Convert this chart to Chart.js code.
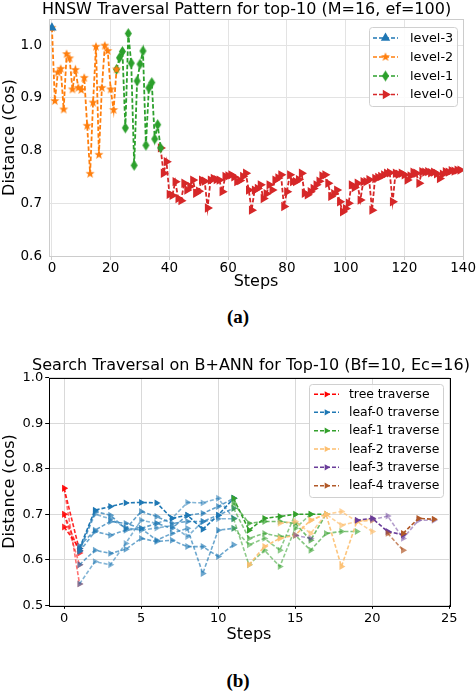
<!DOCTYPE html>
<html>
<head>
<meta charset="utf-8">
<script src="https://cdn.jsdelivr.net/npm/chart.js@4.4.0/dist/chart.umd.min.js"></script>
<style>
  body { margin: 0; background: #fff; width: 476px; height: 694px; position: relative; overflow: hidden; }
  canvas { position: absolute; left: 0; }
  #topChart { top: 0; }
  #botChart { top: 340px; }
  .cap { position: absolute; left: 0; width: 476px; text-align: center; font: bold 19px "Liberation Serif", serif; color: #000; }
</style>
</head>
<body>
<canvas id="topChart" width="476" height="300"></canvas>
<div class="cap" style="top:306px">(a)</div>
<canvas id="botChart" width="476" height="310"></canvas>
<div class="cap" style="top:670px">(b)</div>
<script>
/* ---- (a) HNSW traversal data ---- */
var topXTicks = [0, 20, 40, 60, 80, 100, 120, 140];
var topYTicks = [0.6, 0.7, 0.8, 0.9, 1.0];
var level3Start = 0;
var level3Dist = [1.033];
var level2Start = 0;
var level2Dist = [1.033, 0.894, 0.948, 0.955, 0.878, 0.983, 0.975, 0.916, 0.953, 0.919, 0.915, 0.938,
  0.847, 0.756, 0.891, 0.997, 0.792, 0.919, 0.999, 0.989, 0.916, 0.877, 0.954];
var level1Start = 22;
var level1Dist = [0.954, 0.976, 0.988, 0.843, 1.022, 0.966, 0.772, 0.932, 0.964, 0.989, 0.810, 0.919,
  0.929, 0.822, 0.849, 0.805];
var level0Start = 37;
var level0Dist = [
  0.805, 0.757, 0.779, 0.717, 0.715, 0.741, 0.709, 0.705, 0.738, 0.725,
  0.732, 0.744, 0.719, 0.723, 0.744, 0.742, 0.691, 0.744, 0.747, 0.745,
  0.744, 0.722, 0.751, 0.752, 0.754, 0.750, 0.741, 0.743, 0.751, 0.757,
  0.725, 0.687, 0.725, 0.728, 0.735, 0.709, 0.718, 0.735, 0.725, 0.744,
  0.748, 0.754, 0.694, 0.722, 0.754, 0.741, 0.741, 0.745, 0.757, 0.719,
  0.716, 0.722, 0.728, 0.735, 0.742, 0.752, 0.754, 0.738, 0.713, 0.718,
  0.725, 0.703, 0.684, 0.690, 0.700, 0.735, 0.730, 0.738, 0.706, 0.741,
  0.741, 0.745, 0.687, 0.747, 0.749, 0.751, 0.754, 0.757, 0.758, 0.703,
  0.757, 0.755, 0.757, 0.754, 0.744, 0.752, 0.759, 0.757, 0.738, 0.760,
  0.759, 0.760, 0.758, 0.759, 0.756, 0.747, 0.755, 0.760, 0.759, 0.762,
  0.761, 0.763, 0.763];

/* ---- (b) B+ANN traversal data: one list of paths per series ---- */
var botXTicks = [0, 5, 10, 15, 20, 25];
var botYTicks = [0.5, 0.6, 0.7, 0.8, 0.9, 1.0];
var treeStarts = [0, 0, 0, 0, 0];
var treePaths = [[0.757, 0.620], [0.757, 0.547], [0.700, 0.615], [0.700, 0.589], [0.672, 0.625]];
var leaf0Starts = [1, 1, 1, 1, 1, 1, 1];
var leaf0Paths = [
  [0.625, 0.709, 0.717, 0.725, 0.726, 0.725, 0.691, 0.698, 0.667, 0.698, 0.735],
  [0.620, 0.706, 0.698, 0.668, 0.706, 0.695, 0.680, 0.684, 0.684, 0.698, 0.713],
  [0.630, 0.665, 0.684, 0.680, 0.669, 0.680, 0.669, 0.698, 0.702, 0.717, 0.735],
  [0.618, 0.662, 0.654, 0.665, 0.669, 0.643, 0.658, 0.669, 0.570, 0.665, 0.669],
  [0.589, 0.621, 0.614, 0.623, 0.647, 0.640, 0.643, 0.629, 0.629, 0.607, 0.633],
  [0.547, 0.596, 0.589, 0.636, 0.687, 0.680, 0.691, 0.726, 0.725, 0.735, 0.691],
  [0.620, 0.700, 0.690, 0.670, 0.665, 0.670, 0.675, 0.651, 0.684, 0.690, 0.690]];
var leaf1Starts = [11, 11, 11, 11, 11];
var leaf1Paths = [
  [0.735, 0.665, 0.691, 0.695, 0.700, 0.700, 0.700],
  [0.724, 0.680, 0.684, 0.684, 0.680, 0.643, 0.700],
  [0.713, 0.647, 0.658, 0.651, 0.654, 0.621, 0.658, 0.662, 0.662],
  [0.690, 0.589, 0.621, 0.585, 0.669, 0.700],
  [0.669, 0.633, 0.647, 0.621, 0.700]];
var leaf2Starts = [12, 14, 16];
var leaf2Paths = [
  [0.589, 0.629, 0.647, 0.654, 0.687, 0.700, 0.585, 0.684, 0.687],
  [0.680, 0.684, 0.658, 0.700, 0.706, 0.684, 0.662],
  [0.687, 0.700, 0.676, 0.684, 0.690]];
var leaf3Starts = [19, 20, 15];
var leaf3Paths = [[0.687, 0.691, 0.662, 0.655], [0.688, 0.696, 0.647, 0.687, 0.687], [0.654, 0.647]];
var leaf4Starts = [21, 22];
var leaf4Paths = [[0.658, 0.621], [0.658, 0.691, 0.689]];

/* path opacity (style, kept apart from the values) */
var treeAlpha = [0.85, 0.55, 0.75, 0.55, 0.85];
var leaf0Alpha = [1, 0.7, 0.7, 0.65, 0.65, 0.55, 0.55];
var leaf1Alpha = [1, 0.7, 0.6, 0.55, 0.55];
var leaf2Alpha = [0.9, 0.7, 0.7];
var leaf3Alpha = [1, 0.5, 0.5];
var leaf4Alpha = [0.7, 1];

Chart.defaults.font.family = '"DejaVu Sans", sans-serif';
Chart.defaults.color = '#000';

function toPoints(start, vals) {
  var out = [];
  for (var i = 0; i < vals.length; i++) out.push({ x: start + i, y: vals[i] });
  return out;
}

function rgba(hex, a) {
  var n = parseInt(hex.slice(1), 16);
  return 'rgba(' + (n >> 16) + ',' + ((n >> 8) & 255) + ',' + (n & 255) + ',' + a + ')';
}

/* --- custom marker images (filled star, thin diamond) --- */
function makeStar(color, r) {
  var c = document.createElement('canvas');
  var s = Math.ceil(r * 2) + 2;
  c.width = s; c.height = s;
  var ctx = c.getContext('2d');
  ctx.fillStyle = color;
  ctx.beginPath();
  for (var i = 0; i < 10; i++) {
    var rad = (i % 2 === 0) ? r : r * 0.42;
    var a = -Math.PI / 2 + i * Math.PI / 5;
    var px = s / 2 + Math.cos(a) * rad, py = s / 2 + Math.sin(a) * rad;
    if (i === 0) ctx.moveTo(px, py); else ctx.lineTo(px, py);
  }
  ctx.closePath();
  ctx.fill();
  return c;
}

function makeThinDiamond(color, w, h) {
  var c = document.createElement('canvas');
  c.width = w + 2; c.height = h + 2;
  var ctx = c.getContext('2d');
  ctx.fillStyle = color;
  ctx.beginPath();
  ctx.moveTo(c.width / 2, 1);
  ctx.lineTo(c.width - 1, c.height / 2);
  ctx.lineTo(c.width / 2, c.height - 1);
  ctx.lineTo(1, c.height / 2);
  ctx.closePath();
  ctx.fill();
  return c;
}

/* --- small plugins: frame, title text, legend box --- */
function framePlugin(color) {
  return {
    id: 'frame',
    afterDatasetsDraw: function(chart) {
      var a = chart.chartArea, ctx = chart.ctx;
      ctx.save();
      ctx.strokeStyle = color;
      ctx.lineWidth = 1;
      ctx.strokeRect(Math.round(a.left) + 0.5, Math.round(a.top) + 0.5,
        Math.round(a.right - a.left), Math.round(a.bottom - a.top));
      ctx.restore();
    }
  };
}

function titlePlugin(text, x, y, size) {
  return {
    id: 'titleText',
    afterDraw: function(chart) {
      var ctx = chart.ctx;
      ctx.save();
      ctx.font = size + 'px "DejaVu Sans"';
      ctx.fillStyle = '#000';
      ctx.textAlign = 'center';
      ctx.textBaseline = 'middle';
      ctx.fillText(text, x, y);
      ctx.restore();
    }
  };
}

function legendPlugin(box, entries, rowY, lineX0, lineX1, textX, fontSize, dash) {
  return {
    id: 'legendBox',
    afterDraw: function(chart) {
      var ctx = chart.ctx;
      ctx.save();
      ctx.fillStyle = 'rgba(255,255,255,0.85)';
      ctx.strokeStyle = '#d0d0d0';
      ctx.lineWidth = 1;
      ctx.beginPath();
      ctx.roundRect(box.x + 0.5, box.y + 0.5, box.w, box.h, 3);
      ctx.fill();
      ctx.stroke();
      for (var i = 0; i < entries.length; i++) {
        var e = entries[i], y = rowY[i];
        ctx.strokeStyle = e.color;
        ctx.lineWidth = 1.6;
        ctx.setLineDash(dash);
        ctx.beginPath();
        ctx.moveTo(lineX0, y);
        ctx.lineTo(lineX1, y);
        ctx.stroke();
        ctx.setLineDash([]);
        ctx.fillStyle = e.color;
        Chart.helpers.drawPoint(ctx, {
          pointStyle: e.style, rotation: e.rotation || 0, radius: e.radius, borderWidth: 0
        }, (lineX0 + lineX1) / 2, y);
        ctx.fillStyle = '#000';
        ctx.font = fontSize + 'px "DejaVu Sans"';
        ctx.textAlign = 'left';
        ctx.textBaseline = 'middle';
        ctx.fillText(e.label, textX, y + 0.5);
      }
      ctx.restore();
    }
  };
}

/* ================= (a) ================= */
var C_BLUE = '#1f77b4', C_ORANGE = '#ff7f0e', C_GREEN = '#2ca02c', C_RED = '#d62728';
var starImg = makeStar(C_ORANGE, 4.8);
var diamondImg = makeThinDiamond(C_GREEN, 7, 11);

var topSeries = [
  { label: 'level-3', start: level3Start, vals: level3Dist, color: C_BLUE, style: 'triangle', rot: 0, r: 5.4 },
  { label: 'level-2', start: level2Start, vals: level2Dist, color: C_ORANGE, style: starImg, rot: 0, r: 5 },
  { label: 'level-1', start: level1Start, vals: level1Dist, color: C_GREEN, style: diamondImg, rot: 0, r: 5 },
  { label: 'level-0', start: level0Start, vals: level0Dist, color: C_RED, style: 'triangle', rot: 90, r: 5.4 }
];

var topDatasets = topSeries.map(function(s) {
  return {
    label: s.label,
    data: toPoints(s.start, s.vals),
    showLine: true,
    borderColor: s.color,
    backgroundColor: s.color,
    borderWidth: 1.8,
    borderDash: [4.5, 2.2],
    pointStyle: s.style,
    pointRotation: s.rot,
    pointRadius: s.r,
    pointBorderWidth: 0
  };
});

new Chart(document.getElementById('topChart'), {
  type: 'scatter',
  data: { datasets: topDatasets },
  options: {
    responsive: false,
    animation: false,
    events: [],
    layout: { padding: { left: 0, right: 12, top: 19, bottom: 0 } },
    plugins: { legend: { display: false }, tooltip: { enabled: false }, title: { display: false } },
    scales: {
      x: {
        type: 'linear', min: -1, max: 140,
        afterBuildTicks: function(s) { s.ticks = topXTicks.map(function(v) { return { value: v }; }); },
        afterFit: function(s) { s.height = 44; },
        grid: { color: '#e3e3e3', drawTicks: true, tickLength: 4, tickColor: '#cccccc' },
        border: { display: false },
        ticks: { font: { size: 13.5 }, padding: 0, maxRotation: 0 },
        title: { display: true, text: 'Steps', font: { size: 16 }, padding: { top: 0, bottom: 8.4 } }
      },
      y: {
        type: 'linear', min: 0.6, max: 1.0496,
        afterBuildTicks: function(s) { s.ticks = topYTicks.map(function(v) { return { value: v }; }); },
        afterFit: function(s) { s.width = 49; },
        grid: { color: '#e3e3e3', drawTicks: false },
        border: { display: false },
        ticks: { font: { size: 13.5 }, padding: 7, callback: function(v) { return v.toFixed(1); } },
        title: { display: true, text: 'Distance (Cos)', font: { size: 16 }, padding: { top: 0, bottom: 0 } }
      }
    }
  },
  plugins: [
    framePlugin('#cccccc'),
    titlePlugin('HNSW Traversal Pattern for top-10 (M=16, ef=100)', 246.5, 10, 16),
    legendPlugin({ x: 369, y: 27, w: 88, h: 79 },
      topSeries.map(function(s) { return { label: s.label, color: s.color, style: s.style, rotation: s.rot, radius: s.r }; }),
      [38, 57, 76, 94.5], 373, 398, 410, 12.8, [4, 2])
  ]
});

/* ================= (b) ================= */
var P_RED = '#ff0000', P_BLUE = '#1f78b4', P_GREEN = '#33a02c', P_PEACH = '#fdbf6f',
    P_PURPLE = '#6a3d9a', P_BROWN = '#b15928';

var botSeries = [
  { label: 'tree traverse', starts: treeStarts, paths: treePaths, alpha: treeAlpha, color: P_RED },
  { label: 'leaf-0 traverse', starts: leaf0Starts, paths: leaf0Paths, alpha: leaf0Alpha, color: P_BLUE },
  { label: 'leaf-1 traverse', starts: leaf1Starts, paths: leaf1Paths, alpha: leaf1Alpha, color: P_GREEN },
  { label: 'leaf-2 traverse', starts: leaf2Starts, paths: leaf2Paths, alpha: leaf2Alpha, color: P_PEACH },
  { label: 'leaf-3 traverse', starts: leaf3Starts, paths: leaf3Paths, alpha: leaf3Alpha, color: P_PURPLE },
  { label: 'leaf-4 traverse', starts: leaf4Starts, paths: leaf4Paths, alpha: leaf4Alpha, color: P_BROWN }
];

var botDatasets = [];
botSeries.forEach(function(s) {
  for (var i = 0; i < s.paths.length; i++) {
    var col = rgba(s.color, s.alpha[i]);
    botDatasets.push({
      label: s.label,
      data: toPoints(s.starts[i], s.paths[i]),
      showLine: true,
      borderColor: col,
      backgroundColor: col,
      borderWidth: 1.6,
      borderDash: [4, 2],
      pointStyle: 'triangle',
      pointRotation: 90,
      pointRadius: 4,
      pointBorderWidth: 0
    });
  }
});
/* later series on top, like the order they were plotted */
for (var k = 0; k < botDatasets.length; k++) botDatasets[k].order = botDatasets.length - k;

new Chart(document.getElementById('botChart'), {
  type: 'scatter',
  data: { datasets: botDatasets },
  options: {
    responsive: false,
    animation: false,
    events: [],
    layout: { padding: { left: 0, right: 26.7, top: 37.7, bottom: 0 } },
    plugins: { legend: { display: false }, tooltip: { enabled: false }, title: { display: false } },
    scales: {
      x: {
        type: 'linear', min: -1, max: 25,
        afterBuildTicks: function(s) { s.ticks = botXTicks.map(function(v) { return { value: v }; }); },
        afterFit: function(s) { s.height = 44.7; },
        grid: { color: '#d9d9d9', drawTicks: true, tickLength: 3.5, tickColor: '#000' },
        border: { display: false },
        ticks: { font: { size: 13 }, padding: 2, maxRotation: 0 },
        title: { display: true, text: 'Steps', font: { size: 16 }, padding: { top: 0, bottom: 5.4 } }
      },
      y: {
        type: 'linear', min: 0.5, max: 1.0,
        afterBuildTicks: function(s) { s.ticks = botYTicks.map(function(v) { return { value: v }; }); },
        afterFit: function(s) { s.width = 48.7; },
        grid: { color: '#d9d9d9', drawTicks: true, tickLength: 3.5, tickColor: '#000' },
        border: { display: false },
        ticks: { font: { size: 13 }, padding: 2, callback: function(v) { return v.toFixed(1); } },
        title: { display: true, text: 'Distance (cos)', font: { size: 16 }, padding: { top: 0, bottom: 0 } }
      }
    }
  },
  plugins: [
    framePlugin('#000000'),
    titlePlugin('Search Traversal on B+ANN for Top-10 (Bf=10, Ec=16)', 251, 26, 16),
    legendPlugin({ x: 309, y: 44, w: 134, h: 113 },
      botSeries.map(function(s) { return { label: s.label, color: s.color, style: 'triangle', rotation: 90, radius: 3.6 }; }),
      [54.3, 72.3, 90.7, 109, 127.3, 145.7], 314, 339, 349, 12.4, [4, 2])
  ]
});
</script>
</body>
</html>
